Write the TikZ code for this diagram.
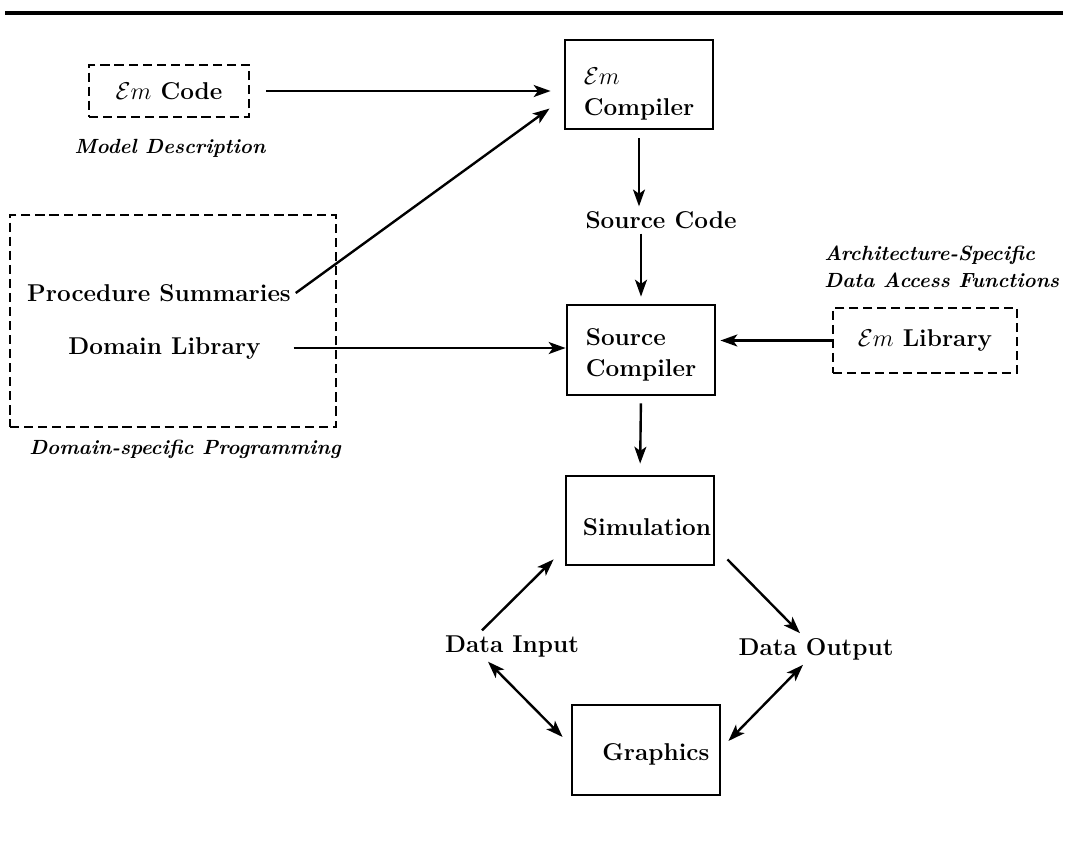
\documentclass[tikz,border=0pt]{standalone}
\usepackage{amssymb}
\usepackage{amsmath}
\usepackage{tikz}
\usetikzlibrary{arrows.meta}

\begin{document}
\begin{tikzpicture}[font=\fontsize{17.3}{22}\selectfont\bfseries,
        box/.style={draw, line width=2pt, minimum width=3.7cm, minimum height=2.225cm, inner sep=0pt, align=left},
        dbox/.style={draw, line width=2pt, dash pattern=on 6.5pt off 3.5pt},
        note/.style={font=\fontsize{14.6}{19}\selectfont\bfseries\itshape, inner sep=0pt},
        arr/.style={-{Stealth[length=12pt,width=8.5pt,inset=3pt]}, line width=1.7pt},
        darr/.style={{Stealth[length=12pt,width=8.5pt,inset=3pt]}-{Stealth[length=12pt,width=8.5pt,inset=3pt]}, line width=1.7pt}]
        \useasboundingbox (0,0) rectangle (26.65,-21);
        \coordinate (r1) at (0.125,-0.325);
        \coordinate (r2) at (26.575,-0.325);
        \draw[line width=2.4pt] (r1) -- (r2);

        \node[dbox, minimum width=4cm, minimum height=1.3cm] (ecode) at (4.225,-2.275) {$\mathcal{E}m$ Code};
        \node[note] (mdesc) at (4.25,-3.7) {Model Description};
        \node[box] (ecomp) at (15.975,-2.1125) {\rule{0pt}{25pt}$\mathcal{E}m$\\Compiler};
        \node (scode) at (16.525,-5.5) {Source Code};
        \node[box, minimum height=2.25cm] (scomp) at (16.025,-8.75) {\rule{0pt}{19pt}Source\\Compiler};
        \node[dbox, minimum width=8.15cm, minimum height=5.3cm] (dlbox) at (4.325,-8.025) {};
        \node (psum) at (3.975,-7.325) {Procedure Summaries};
        \node (dlib) at (4.1125,-8.7) {Domain Library};
        \node[note] (dsp) at (4.625,-11.225) {Domain-specific Programming};
        \node[note, anchor=west, align=left] (arch) at (20.6,-6.6625) {Architecture-Specific\\Data Access Functions};
        \node[dbox, minimum width=4.6cm, minimum height=1.625cm] (elib) at (23.125,-8.5125) {$\mathcal{E}m$ Library};
        \node[box] (sim) at (16,-13.0125) {\rule{0pt}{22pt}\hspace*{10pt}Simulation};
        \node (din) at (12.8,-16.15) {Data Input};
        \node (dout) at (20.4,-16.225) {Data Output};
        \node[box, minimum height=2.25cm] (gfx) at (16.15,-18.75) {\rule{0pt}{18pt}\hspace*{14pt}Graphics};

        \draw[arr, shorten <=0.4cm, shorten >=0.325cm] (ecode.east) -- (ecode.east -| ecomp.west);
        \draw[arr] (psum.east) -- ([xshift=-0.35cm,yshift=-0.6cm]ecomp.west);

        \draw[arr, shorten <=0.2cm] (ecomp.south) -- (ecomp.south |- scode.north);
        \draw[arr, shorten >=0.175cm] (scomp.north |- scode.south) -- (scomp.north);

        \draw[arr, shorten <=0.7cm] (dlib.east) -- (dlib.east -| scomp.west);
        \draw[arr, shorten >=0.1cm] (elib.west) -- (elib.west -| scomp.east);
        \draw[arr, shorten <=0.175cm, shorten >=0.275cm] (scomp.south) -- (sim.north);
        %%
        \draw[arr] ([xshift=-0.75cm]din.north) -- ([xshift=-0.275cm,yshift=0.175cm]sim.south west);
        \draw[arr] ([xshift=0.3cm,yshift=0.175cm]sim.south east) -- ([xshift=-0.4cm]dout.north);

        \draw[darr] ([xshift=-0.6cm]din.south) -- ([xshift=-0.2cm,yshift=0.325cm]gfx.west);
        \draw[darr] ([xshift=-0.325cm]dout.south) -- ([xshift=0.175cm,yshift=0.225cm]gfx.east);
    \end{tikzpicture}
\end{document}
